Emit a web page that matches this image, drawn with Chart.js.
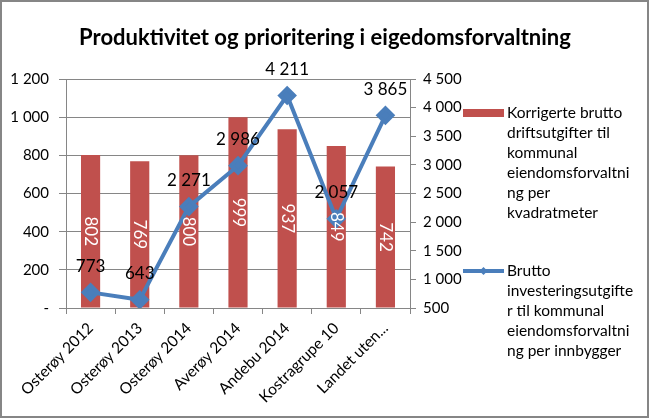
<!DOCTYPE html>
<html>
<head>
<meta charset="utf-8">
<script src="https://cdn.jsdelivr.net/npm/chart.js@4"></script>
<style>
  html, body { margin: 0; padding: 0; background: #fff; }
  #wrap { position: relative; width: 650px; height: 419px; }
</style>
</head>
<body>
<div id="wrap"><canvas id="chart" width="650" height="419"></canvas></div>
<script>
// Data
const categories = ["Osterøy 2012", "Osterøy 2013", "Osterøy 2014", "Averøy 2014", "Andebu 2014", "Kostragrupe 10", "Landet uten..."];
const driftValues = [802, 769, 800, 999, 937, 849, 742];
const investValues = [773, 643, 2271, 2986, 4211, 2057, 3865];
const driftName = ["Korrigerte brutto", "driftsutgifter til", "kommunal", "eiendomsforvaltni", "ng per", "kvadratmeter"];
const investName = ["Brutto", "investeringsutgifte", "r til kommunal", "eiendomsforvaltni", "ng per innbygger"];
const chartTitle = "Produktivitet og prioritering i eigedomsforvaltning";

const FONT = "Lato, 'Open Sans', sans-serif";
const RED = "#C0504D";
const BLUE = "#4A7EBB";
const GRID = "#868686";

function fmt(v) {
    if (v === 0) return "-";
    return String(v).replace(/\B(?=(\d{3})+(?!\d))/g, " ");
}

// Rammen rundt hele figuren
const borderPlugin = {
    id: "border",
    beforeDraw(chart) {
        const ctx = chart.ctx;
        ctx.save();
        ctx.fillStyle = "#fff";
        ctx.fillRect(0, 0, chart.width, chart.height);
        ctx.strokeStyle = GRID;
        ctx.lineWidth = 2;
        ctx.strokeRect(1, 1, chart.width - 3, chart.height - 3);
        ctx.restore();
    }
};

// Verdietiketter på søyler og linje
const labelPlugin = {
    id: "labels",
    afterDatasetsDraw(chart) {
        const ctx = chart.ctx;
        ctx.save();
        ctx.font = "17px " + FONT;
        ctx.textAlign = "center";
        ctx.textBaseline = "middle";

        chart.getDatasetMeta(0).data.forEach((bar, i) => {
            const cy = (bar.y + bar.base) / 2;
            ctx.save();
            ctx.translate(bar.x, cy);
            ctx.rotate(Math.PI / 2);
            ctx.fillStyle = "#fff";
            ctx.fillText(fmt(driftValues[i]), 0, 0);
            ctx.restore();
        });

        ctx.fillStyle = "#000";
        chart.getDatasetMeta(1).data.forEach((pt, i) => {
            ctx.fillText(fmt(investValues[i]), pt.x, pt.y - 26);
        });
        ctx.restore();
    }
};

// Forklaring til høyre, med linjeskift som i originalen
const legendPlugin = {
    id: "sideLegend",
    afterDraw(chart) {
        const ctx = chart.ctx;
        ctx.save();
        ctx.font = "15.5px " + FONT;
        ctx.textBaseline = "middle";
        ctx.textAlign = "left";

        let y = 113;
        ctx.fillStyle = RED;
        ctx.fillRect(463, y - 4, 41, 8);
        ctx.fillStyle = "#000";
        driftName.forEach((line, i) => ctx.fillText(line, 507, y + i * 20));

        y = 271;
        ctx.strokeStyle = BLUE;
        ctx.lineWidth = 4;
        ctx.beginPath();
        ctx.moveTo(463, y);
        ctx.lineTo(504, y);
        ctx.stroke();
        ctx.fillStyle = BLUE;
        ctx.beginPath();
        ctx.moveTo(483.5, y - 4);
        ctx.lineTo(487.5, y);
        ctx.lineTo(483.5, y + 4);
        ctx.lineTo(479.5, y);
        ctx.closePath();
        ctx.fill();
        ctx.fillStyle = "#000";
        investName.forEach((line, i) => ctx.fillText(line, 507, y + i * 20));
        ctx.restore();
    }
};

const ctx = document.getElementById("chart").getContext("2d");
new Chart(ctx, {
    data: {
        labels: categories,
        datasets: [
            {
                type: "bar",
                label: driftName.join(" "),
                data: driftValues,
                backgroundColor: RED,
                yAxisID: "y",
                barPercentage: 0.39,
                categoryPercentage: 1.0,
                order: 2
            },
            {
                type: "line",
                label: investName.join(" "),
                data: investValues,
                borderColor: BLUE,
                backgroundColor: BLUE,
                borderWidth: 4,
                pointStyle: "rectRot",
                pointRadius: 7,
                pointHoverRadius: 7,
                tension: 0,
                yAxisID: "y1",
                order: 1
            }
        ]
    },
    options: {
        responsive: false,
        animation: false,
        layout: { padding: 0 },
        plugins: {
            legend: { display: false },
            tooltip: { enabled: false },
            title: {
                display: true,
                text: chartTitle,
                color: "#000",
                font: { family: FONT, size: 22, weight: "bold", lineHeight: 1.2 },
                padding: { top: 25, bottom: 27.6 }
            }
        },
        scales: {
            x: {
                grid: { offset: true, drawOnChartArea: false, drawTicks: true, tickLength: 6, color: GRID },
                border: { color: GRID },
                ticks: {
                    color: "#000",
                    font: { family: FONT, size: 15.5 },
                    maxRotation: 45,
                    minRotation: 45,
                    autoSkip: false,
                    padding: 5
                },
                afterFit(scale) { scale.height = 111; }
            },
            y: {
                position: "left",
                min: 0,
                max: 1200,
                grid: { color: GRID, tickLength: 7 },
                border: { color: GRID },
                ticks: {
                    stepSize: 200,
                    color: "#000",
                    font: { family: FONT, size: 15 },
                    padding: 10,
                    callback: v => fmt(v)
                },
                afterFit(scale) { scale.width = 66; }
            },
            y1: {
                position: "right",
                min: 500,
                max: 4500,
                grid: { drawOnChartArea: false, color: GRID, tickLength: 6 },
                border: { color: GRID },
                ticks: {
                    stepSize: 500,
                    color: "#000",
                    font: { family: FONT, size: 15 },
                    padding: 7,
                    callback: v => fmt(v)
                },
                afterFit(scale) { scale.width = 240; }
            }
        }
    },
    plugins: [borderPlugin, labelPlugin, legendPlugin]
});
</script>
</body>
</html>
